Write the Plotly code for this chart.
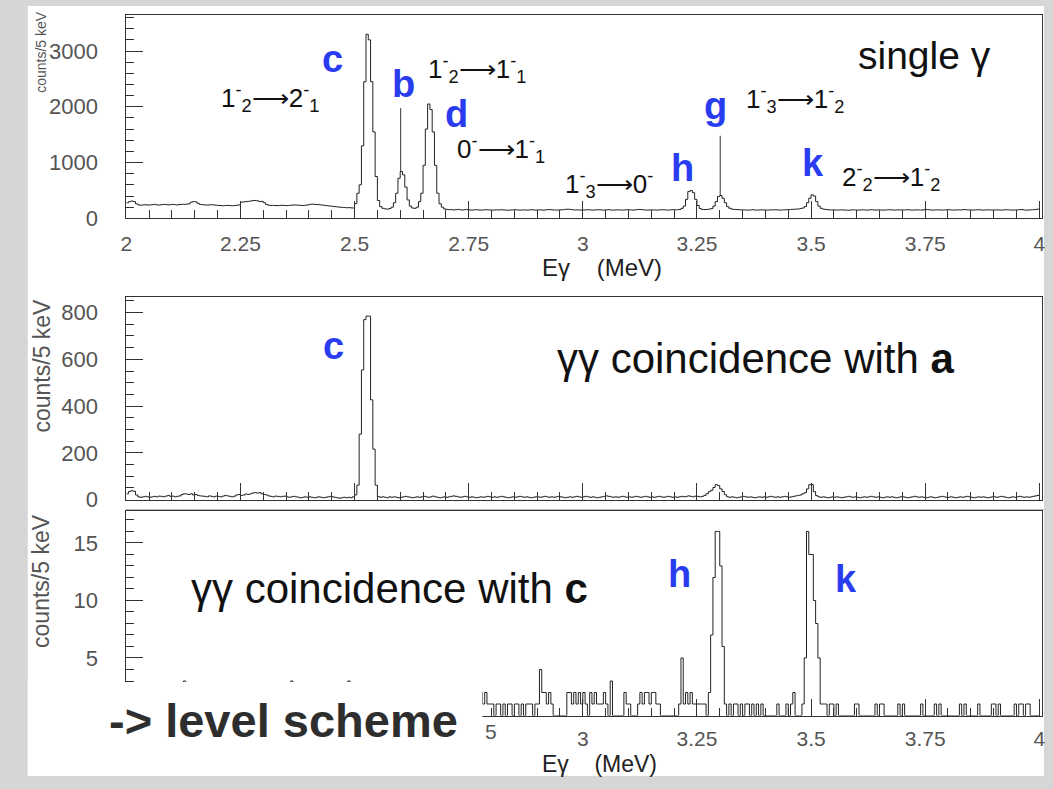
import plotly.graph_objects as go

W, H = 1053, 789
FONT = "Liberation Sans, Arial, Helvetica, sans-serif"
BLUE = "#2a3cf0"
AXC = "#333333"
TICKC = "#555555"
TXT = "#111111"

# ---------------- data ----------------
bin_start_mev = 2.0
bin_width_mev = 0.005

# single gamma spectrum, counts per 5 keV (2.00 - 4.00 MeV), 20 bins per row
single_counts = (
    [280, 300, 310, 300, 260, 240, 235, 240, 245, 238, 240, 245, 250, 242, 238, 245, 250, 248, 240, 245]
    + [250, 245, 240, 248, 252, 250, 255, 260, 290, 300, 295, 270, 250, 245, 240, 238, 242, 245, 240, 235]
    + [230, 228, 225, 230, 232, 228, 225, 230, 235, 240, 290, 295, 300, 305, 310, 318, 320, 315, 300, 305]
    + [280, 250, 235, 230, 232, 230, 228, 232, 235, 230, 228, 232, 235, 240, 238, 235, 232, 230, 235, 240]
    + [250, 255, 250, 248, 245, 240, 235, 230, 225, 220, 215, 210, 205, 200, 198, 195, 190, 192, 188, 185]
    + [265, 450, 600, 1300, 2450, 3300, 3200, 2450, 1550, 750, 320, 210, 180, 170, 165, 175, 200, 280, 450, 720]
    + [840, 780, 560, 330, 220, 185, 180, 200, 300, 450, 950, 1600, 2050, 1950, 1550, 950, 450, 260, 200, 170]
    + [160, 155, 158, 150, 155, 160, 152, 150, 155, 158, 150, 148, 152, 155, 150, 148, 150, 155, 152, 150]
    + [148, 150, 152, 150, 155, 150, 148, 145, 150, 152, 155, 150, 148, 150, 152, 148, 150, 155, 150, 148]
    + [150, 152, 148, 150, 155, 158, 152, 150, 148, 150, 152, 155, 160, 165, 160, 155, 150, 152, 150, 148]
    + [150, 152, 155, 150, 148, 150, 155, 152, 150, 148, 152, 155, 150, 148, 150, 152, 150, 148, 150, 155]
    + [152, 150, 148, 155, 160, 158, 152, 150, 148, 150, 152, 150, 148, 150, 155, 152, 150, 148, 152, 155]
    + [152, 155, 160, 180, 220, 340, 480, 500, 460, 340, 230, 175, 160, 158, 160, 165, 175, 220, 300, 390]
    + [410, 360, 280, 210, 180, 165, 160, 158, 155, 150, 152, 150, 148, 150, 155, 150, 148, 150, 152, 150]
    + [148, 150, 152, 150, 155, 150, 148, 150, 152, 155, 158, 160, 162, 165, 168, 175, 185, 210, 280, 360]
    + [420, 400, 300, 220, 180, 165, 160, 155, 150, 152, 150, 148, 150, 152, 150, 148, 145, 150, 152, 150]
    + [148, 150, 152, 150, 148, 150, 155, 150, 148, 152, 150, 148, 150, 152, 155, 150, 148, 150, 152, 150]
    + [150, 152, 155, 150, 148, 150, 152, 150, 148, 155, 158, 155, 150, 148, 150, 152, 150, 148, 150, 152]
    + [155, 150, 148, 150, 152, 150, 155, 158, 152, 150, 148, 150, 152, 155, 150, 148, 150, 152, 150, 148]
    + [150, 152, 150, 148, 150, 155, 152, 150, 148, 150, 152, 155, 158, 150, 148, 150, 152, 155, 160, 165]
)

# gamma-gamma coincidence with a
coinc_a_counts = (
    [25, 35, 38, 36, 20, 12, 10, 12, 14, 12, 10, 12, 14, 12, 15, 14, 12, 15, 18, 14]
    + [15, 12, 14, 16, 22, 25, 24, 22, 25, 20, 22, 18, 16, 15, 14, 12, 16, 14, 12, 15]
    + [14, 12, 15, 18, 16, 14, 12, 15, 20, 22, 18, 20, 24, 22, 25, 28, 30, 28, 30, 25]
    + [22, 20, 16, 14, 12, 15, 14, 12, 14, 15, 12, 10, 12, 14, 12, 10, 8, 10, 12, 10]
    + [12, 10, 8, 10, 12, 10, 8, 10, 12, 14, 12, 10, 8, 6, 8, 10, 8, 10, 8, 12]
    + [20, 62, 280, 555, 770, 785, 785, 427, 216, 62, 13, 10, 12, 10, 8, 12, 10, 12, 10, 8]
    + [10, 12, 14, 12, 10, 8, 10, 12, 10, 12, 14, 12, 10, 12, 15, 12, 10, 8, 10, 12]
    + [10, 12, 14, 16, 14, 12, 10, 12, 14, 12, 10, 12, 10, 8, 10, 12, 10, 12, 14, 12]
    + [10, 12, 10, 12, 14, 12, 10, 8, 10, 12, 10, 12, 14, 12, 10, 12, 10, 8, 10, 12]
    + [12, 10, 12, 14, 12, 10, 12, 10, 12, 14, 12, 10, 8, 10, 12, 10, 12, 14, 12, 10]
    + [12, 14, 12, 10, 12, 10, 8, 10, 12, 14, 16, 14, 12, 10, 12, 10, 12, 14, 12, 10]
    + [12, 10, 12, 14, 12, 10, 12, 14, 12, 10, 12, 10, 12, 14, 12, 10, 12, 14, 12, 10]
    + [12, 10, 12, 14, 12, 14, 16, 14, 12, 15, 14, 12, 14, 18, 25, 34, 40, 52, 64, 60]
    + [46, 35, 21, 12, 10, 12, 10, 8, 10, 12, 14, 12, 10, 12, 10, 8, 10, 12, 10, 12]
    + [10, 12, 14, 12, 10, 12, 10, 12, 14, 12, 10, 12, 14, 16, 18, 20, 25, 30, 46, 64]
    + [64, 34, 17, 12, 10, 12, 10, 8, 10, 12, 10, 12, 10, 8, 10, 12, 14, 12, 10, 12]
    + [10, 8, 10, 12, 10, 12, 14, 12, 10, 12, 10, 8, 10, 12, 10, 12, 10, 8, 10, 12]
    + [12, 10, 8, 10, 12, 14, 12, 10, 12, 10, 8, 10, 12, 10, 8, 10, 12, 14, 12, 10]
    + [10, 12, 10, 8, 10, 12, 10, 12, 14, 12, 10, 8, 10, 12, 10, 12, 10, 8, 10, 12]
    + [12, 10, 12, 14, 12, 10, 8, 10, 12, 10, 12, 14, 12, 10, 12, 10, 12, 14, 16, 18]
)

# gamma-gamma coincidence with c
coinc_c_counts = (
    [1, 2, 1, 0, 1, 2, 2, 1, 0, 1, 1, 2, 1, 0, 2, 1, 1, 0, 1, 2]
    + [1, 0, 2, 1, 1, 3, 1, 0, 1, 2, 1, 1, 0, 2, 1, 0, 1, 1, 2, 0]
    + [1, 2, 1, 0, 1, 1, 2, 0, 1, 1, 0, 2, 1, 1, 0, 1, 2, 1, 0, 1]
    + [2, 1, 0, 1, 1, 2, 1, 0, 1, 2, 1, 0, 3, 1, 1, 0, 2, 1, 0, 1]
    + [1, 0, 2, 1, 1, 0, 1, 2, 1, 0, 1, 1, 0, 2, 1, 0, 1, 3, 1, 1]
    + [0, 1, 2, 1, 0, 1, 1, 0, 2, 1, 0, 1, 1, 2, 0, 1, 1, 0, 1, 2]
    + [1, 0, 1, 1, 0, 2, 1, 0, 1, 1, 2, 0, 1, 0, 1, 1, 0, 2, 1, 0]
    + [1, 1, 0, 1, 2, 1, 0, 1, 1, 0, 1, 2, 0, 1, 2, 2, 1, 2, 1, 1]
    + [1, 0, 1, 1, 0, 1, 0, 1, 1, 0, 1, 1, 0, 1, 0, 1, 1, 1, 0, 1]
    + [1, 4, 2, 2, 1, 2, 1, 0, 0, 0, 0, 0, 0, 2, 2, 1, 2, 1, 2, 1]
    + [2, 1, 0, 2, 1, 2, 1, 1, 1, 2, 1, 0, 3, 0, 0, 0, 0, 0, 2, 1]
    + [1, 0, 0, 0, 1, 2, 1, 2, 2, 1, 2, 2, 1, 1, 0, 0, 0, 0, 0, 0]
    + [0, 0, 1, 5, 1, 2, 1, 2, 1, 1, 1, 1, 1, 1, 0, 2, 7, 12, 16, 16]
    + [13, 6, 1, 0, 1, 0, 1, 1, 0, 1, 0, 1, 1, 0, 1, 0, 1, 0, 1, 0]
    + [0, 0, 0, 0, 0, 1, 0, 0, 0, 1, 0, 1, 2, 0, 0, 0, 1, 5, 16, 14]
    + [14, 10, 8, 5, 1, 1, 1, 0, 1, 1, 0, 1, 0, 0, 0, 0, 0, 0, 0, 1]
    + [1, 0, 0, 0, 0, 0, 0, 0, 1, 0, 1, 1, 0, 0, 0, 0, 0, 0, 1, 0]
    + [1, 0, 0, 0, 0, 0, 0, 0, 1, 0, 0, 0, 0, 0, 1, 0, 1, 0, 0, 0]
    + [0, 0, 0, 0, 0, 1, 0, 1, 0, 0, 0, 0, 0, 1, 0, 0, 0, 0, 0, 1]
    + [1, 0, 1, 0, 0, 0, 0, 0, 0, 1, 0, 1, 1, 0, 1, 1, 0, 0, 0, 0]
)

x_tick_vals = [2, 2.25, 2.5, 2.75, 3, 3.25, 3.5, 3.75, 4]
x_tick_text = ["2", "2.25", "2.5", "2.75", "3", "3.25", "3.5", "3.75", "4"]
# bottom panel: labels 2 ... 2.75 are hidden under the "level scheme" box,
# only the last digit of "2.75" peeks out (added as its own text below)
x_tick_text_bottom = ["", "", "", "", "3", "3.25", "3.5", "3.75", "4"]
single_y_ticks = [0, 1000, 2000, 3000]
coinc_a_y_ticks = [0, 200, 400, 600, 800]
coinc_c_y_ticks = [0, 5, 10, 15]

# marker lines for peaks b and g in the single spectrum (energy, from count, to count)
marker_lines = [(2.601, 830, 1975), (3.301, 400, 1480)]

# ---------------- helpers ----------------
n_bins = len(single_counts)
edges = [round(bin_start_mev + bin_width_mev * k, 4) for k in range(n_bins + 1)]


def step_y(counts):
    return list(counts) + [counts[-1]]


def px(x):
    return x / W


def py(y):
    return 1 - y / H


TICKFONT = dict(family=FONT, size=21, color=TICKC)


def xaxis(ticktext, showlabels, anchor, standoff=6):
    return dict(
        domain=[px(121.5), px(1045.5)], range=[2, 4.005], anchor=anchor,
        showline=True, linecolor=AXC, linewidth=1, mirror=True,
        ticks="inside", ticklen=17, tickwidth=1, tickcolor=AXC,
        tickmode="array", tickvals=x_tick_vals, ticktext=ticktext,
        showticklabels=showlabels, ticklabelstandoff=standoff,
        tickfont=TICKFONT,
        minor=dict(tickmode="linear", tick0=2, dtick=0.05, ticks="inside",
                   ticklen=8, tickwidth=1, tickcolor=AXC, showgrid=False),
        showgrid=False, zeroline=False,
    )


def yaxis(y0px, y1px, rng, tvals, mdtick, anchor):
    return dict(
        domain=[py(y0px), py(y1px)], range=rng, anchor=anchor,
        showline=True, linecolor=AXC, linewidth=1, mirror=True,
        ticks="inside", ticklen=17, tickwidth=1, tickcolor=AXC,
        tickmode="array", tickvals=tvals, ticktext=[str(v) for v in tvals],
        ticklabelstandoff=23,
        tickfont=dict(family=FONT, size=22, color=TICKC),
        minor=dict(tickmode="linear", tick0=0, dtick=mdtick, ticks="inside",
                   ticklen=8, tickwidth=1, tickcolor=AXC, showgrid=False),
        showgrid=False, zeroline=False,
    )


fig = go.Figure()
line_style = dict(color="#222222", width=1, shape="hv")
fig.add_trace(go.Scatter(x=edges, y=step_y(single_counts), mode="lines",
                         line=line_style, xaxis="x", yaxis="y", showlegend=False))
fig.add_trace(go.Scatter(x=edges, y=step_y(coinc_a_counts), mode="lines",
                         line=line_style, xaxis="x2", yaxis="y2", showlegend=False))
fig.add_trace(go.Scatter(x=edges, y=step_y(coinc_c_counts), mode="lines",
                         line=line_style, xaxis="x3", yaxis="y3", showlegend=False))

shapes = [
    # white page
    dict(type="rect", xref="paper", yref="paper", x0=px(22), x1=px(1048), y0=0, y1=py(6),
         fillcolor="white", line=dict(width=0), layer="below"),
    # faint separator under middle panel
    dict(type="line", xref="paper", yref="paper", x0=px(121), x1=px(1048), y0=py(518), y1=py(518),
         line=dict(color="#bbbbbb", width=1), layer="below"),
]
for e, c0, c1 in marker_lines:
    shapes.append(dict(type="line", xref="x", yref="y", x0=e, x1=e, y0=c0, y1=c1,
                       line=dict(color="#333333", width=1)))
# white box covering lower-left part (for the "level scheme" text)
shapes.append(dict(type="rect", xref="paper", yref="paper", x0=px(22), x1=px(481), y0=0, y1=py(693.5),
                   fillcolor="white", line=dict(width=0), layer="above"))


def ann(text, x, y, size, color=TXT, angle=0, family=FONT, xanchor="center"):
    return dict(text=text, x=px(x), y=py(y), xref="paper", yref="paper", showarrow=False,
                xanchor=xanchor, yanchor="middle", textangle=angle,
                font=dict(family=family, size=size, color=color))


ARROW = "\u27f6"


def tr(a, b, c, d):
    return f"{a}<sup>-</sup><sub>{b}</sub>{ARROW}{c}<sup>-</sup><sub>{d}</sub>"


annotations = [
    # top panel
    ann("single \u03b3", 927, 56, 39),
    ann("<b>c</b>", 330, 60, 38, BLUE),
    ann("<b>b</b>", 401, 85, 38, BLUE),
    ann("<b>d</b>", 455, 116, 38, BLUE),
    ann("<b>h</b>", 683, 171, 38, BLUE),
    ann("<b>g</b>", 716, 108, 38, BLUE),
    ann("<b>k</b>", 815, 166, 38, BLUE),
    ann(tr(1, 2, 2, 1), 267, 100, 26),
    ann(tr(1, 2, 1, 1), 476, 70, 26),
    ann(f"0<sup>-</sup>{ARROW}1<sup>-</sup><sub>1</sub>", 500, 152, 26),
    ann(f"1<sup>-</sup><sub>3</sub>{ARROW}0<sup>-</sup>", 609, 187, 26),
    ann(tr(1, 3, 1, 2), 797, 101, 26),
    ann(tr(2, 2, 1, 2), 893, 180, 26),
    ann("counts/5 keV", 35, 53, 14, TICKC, -90),
    ann("E\u03b3\u00a0\u00a0\u00a0\u00a0(MeV)", 602, 272, 24, "#222222"),
    # middle panel
    ann("\u03b3\u03b3 coincidence with <b>a</b>", 757, 364, 42),
    ann("<b>c</b>", 331, 352, 38, BLUE),
    ann("counts/5 keV", 36, 372, 23, TICKC, -90),
    # bottom panel
    ann("\u03b3\u03b3 coincidence with <b>c</b>", 387, 598, 42),
    ann("<b>h</b>", 680, 584, 38, BLUE),
    ann("<b>k</b>", 848, 589, 38, BLUE),
    ann("counts/5 keV", 36, 591, 23, TICKC, -90),
    ann("5", 482, 744, 21, TICKC, xanchor="left"),
    ann("E\u03b3\u00a0\u00a0\u00a0\u00a0(MeV)", 599, 777, 23, "#222222"),
    # overlay text
    ann("<b>-&gt; level scheme</b>", 280, 733, 47, "#2e2e2e"),
]

fig.update_layout(
    width=W, height=789, autosize=False,
    margin=dict(l=0, r=0, t=0, b=0),
    paper_bgcolor="#d6d6d6", plot_bgcolor="white",
    showlegend=False,
    xaxis=xaxis(x_tick_text, True, "y"),
    yaxis=yaxis(222, 15, [0, 3650], single_y_ticks, 200, "x"),
    xaxis2=xaxis(x_tick_text, False, "y2"),
    yaxis2=yaxis(508, 301.7, [0, 868], coinc_a_y_ticks, 50, "x2"),
    xaxis3=xaxis(x_tick_text_bottom, True, "y3", standoff=4),
    yaxis3=yaxis(727.5, 520, [0, 17.74], coinc_c_y_ticks, 1, "x3"),
    shapes=shapes,
    annotations=annotations,
)

fig.write_html("out.html")
